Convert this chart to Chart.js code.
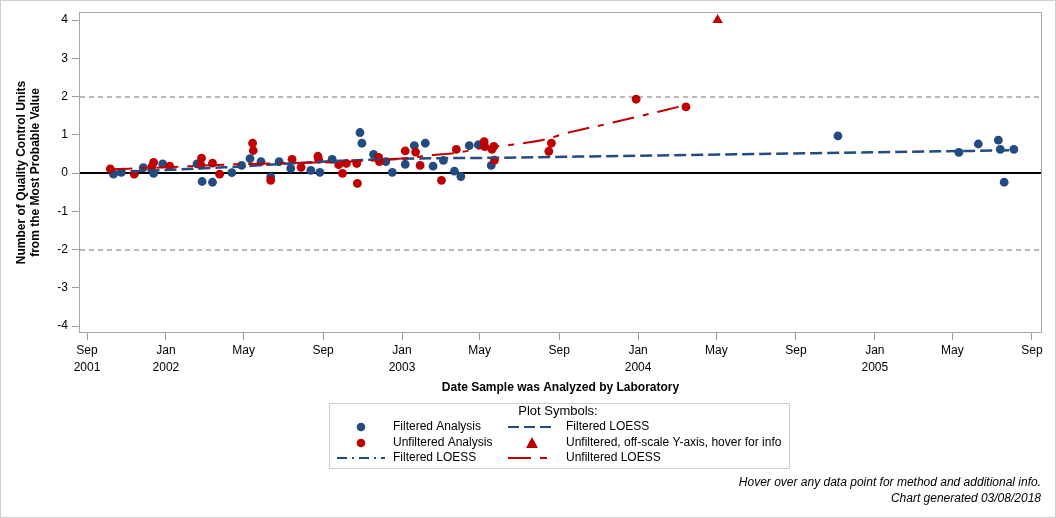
<!DOCTYPE html>
<html>
<head>
<meta charset="utf-8">
<script src="https://cdn.jsdelivr.net/npm/chart.js@4.4.1/dist/chart.umd.min.js"></script>
<style>
  html, body { margin: 0; padding: 0; background: #fff; }
  canvas { display: block; }
</style>
</head>
<body>
<canvas id="qc" width="1056" height="518"></canvas>
<script>
// ---- data ----
const filteredDates = [
  '2001-10-12', '2001-10-24', '2001-11-27', '2001-12-13', '2001-12-27',
  '2002-02-18', '2002-02-26', '2002-03-14', '2002-04-13', '2002-04-28',
  '2002-05-11', '2002-05-28', '2002-06-12', '2002-06-25', '2002-07-13',
  '2002-08-13', '2002-08-27', '2002-09-15', '2002-10-28', '2002-10-31',
  '2002-11-18', '2002-12-07', '2002-12-17', '2003-01-06', '2003-01-20',
  '2003-02-06', '2003-02-18', '2003-03-06', '2003-03-23', '2003-04-02',
  '2003-04-15', '2003-04-29', '2003-05-19', '2004-11-05', '2005-05-11',
  '2005-06-10', '2005-07-11', '2005-07-14', '2005-07-20', '2005-08-04'
];
const filteredValues = [
  -0.03, 0.02, 0.14, -0.01, 0.24,
  0.24, -0.22, -0.24, 0.01, 0.20,
  0.38, 0.30, -0.10, 0.30, 0.12,
  0.07, 0.02, 0.36, 1.06, 0.78,
  0.49, 0.30, 0.02, 0.23, 0.72,
  0.78, 0.18, 0.33, 0.05, -0.09,
  0.72, 0.74, 0.20, 0.97, 0.54,
  0.76, 0.86, 0.62, -0.24, 0.62
];

const unfilteredDates = [
  '2001-10-07', '2001-11-13', '2001-12-10', '2001-12-13', '2002-01-07',
  '2002-02-24', '2002-02-25', '2002-03-14', '2002-03-25', '2002-05-15',
  '2002-05-16', '2002-06-12', '2002-07-15', '2002-07-29', '2002-08-24',
  '2002-08-25', '2002-09-25', '2002-10-01', '2002-10-07', '2002-10-23',
  '2002-10-24', '2002-11-26', '2002-11-27', '2003-01-06', '2003-01-22',
  '2003-01-29', '2003-03-03', '2003-03-26', '2003-05-08', '2003-05-09',
  '2003-05-20', '2003-05-23', '2003-05-24', '2003-08-16', '2003-08-20',
  '2003-12-29', '2004-03-15'
];
const unfilteredValues = [
  0.11, -0.03, 0.16, 0.28, 0.18,
  0.21, 0.39, 0.26, -0.03, 0.78,
  0.59, -0.19, 0.36, 0.15, 0.44,
  0.36, 0.22, -0.01, 0.25, 0.25,
  -0.27, 0.41, 0.30, 0.58, 0.55,
  0.20, -0.19, 0.62, 0.82, 0.69,
  0.62, 0.70, 0.34, 0.57, 0.78,
  1.93, 1.73
];

// unfiltered result above the axis range, pinned to the top of the axis
const offScaleDates = ['2004-05-03'];
const offScaleShownAt = [4];

const filteredLoessDates = [
  '2001-10-12', '2002-01-01', '2002-04-01', '2002-07-01', '2002-09-15',
  '2002-12-01', '2003-03-01', '2003-06-01', '2003-10-01', '2004-02-01',
  '2004-06-01', '2004-10-01', '2005-02-01', '2005-06-01', '2005-08-04'
];
const filteredLoessValues = [
  0.03, 0.08, 0.15, 0.24, 0.31,
  0.36, 0.39, 0.40, 0.43, 0.46,
  0.49, 0.52, 0.55, 0.58, 0.60
];

const unfilteredLoessDates = [
  '2001-10-07', '2002-01-01', '2002-04-01', '2002-07-01', '2002-09-30',
  '2003-01-01', '2003-02-18', '2003-03-27', '2003-05-06', '2003-06-29',
  '2003-08-15', '2003-09-07', '2003-11-23', '2004-02-08', '2004-03-15'
];
const unfilteredLoessValues = [
  0.10, 0.15, 0.22, 0.26, 0.29,
  0.38, 0.47, 0.53, 0.66, 0.76,
  0.90, 1.02, 1.32, 1.63, 1.78
];

const xTickDates = [
  '2001-09-01', '2002-01-01', '2002-05-01', '2002-09-01', '2003-01-01',
  '2003-05-01', '2003-09-01', '2004-01-01', '2004-05-01', '2004-09-01',
  '2005-01-01', '2005-05-01', '2005-09-01'
];
const xTickLabels = [
  ['Sep', '2001'], ['Jan', '2002'], 'May', 'Sep', ['Jan', '2003'],
  'May', 'Sep', ['Jan', '2004'], 'May', 'Sep',
  ['Jan', '2005'], 'May', 'Sep'
];
const yTicks = [-4, -3, -2, -1, 0, 1, 2, 3, 4];
const limitLines = [-2, 2];

// ---- helpers ----
const BLUE = '#234b7f';
const RED = '#c00000';
const FONT = "'Liberation Sans', Arial, sans-serif";
const DAY0 = Date.UTC(2001, 8, 1);

function day(s) {
  const [yy, mm, dd] = s.split('-').map(Number);
  return (Date.UTC(yy, mm - 1, dd) - DAY0) / 864e5;
}
function pts(dates, values) {
  return dates.map((d, i) => ({ x: day(d), y: values[i] }));
}

Chart.defaults.font.family = FONT;
Chart.defaults.font.size = 12;
Chart.defaults.color = '#000';

function legendLine(ctx, x1, x2, y, color, dash) {
  ctx.save();
  ctx.strokeStyle = color;
  ctx.lineWidth = 2;
  ctx.setLineDash(dash);
  ctx.beginPath();
  ctx.moveTo(x1, y);
  ctx.lineTo(x2, y);
  ctx.stroke();
  ctx.restore();
}

const qcDecor = {
  id: 'qcDecor',
  beforeDraw(chart) {
    const { ctx, width, height } = chart;
    ctx.save();
    ctx.fillStyle = '#fff';
    ctx.fillRect(0, 0, width, height);
    ctx.strokeStyle = '#cfcfcf';
    ctx.lineWidth = 1;
    ctx.strokeRect(0.5, 0.5, width - 1, height - 1);
    ctx.restore();
  },
  beforeDatasetsDraw(chart) {
    const { ctx, chartArea: a, scales: { y } } = chart;
    ctx.save();
    ctx.strokeStyle = '#a8a8a8';
    ctx.lineWidth = 1;
    ctx.strokeRect(a.left + 0.5, a.top + 0.5, a.width - 1, a.height - 1);

    ctx.strokeStyle = '#b8b8b8';
    ctx.lineWidth = 2;
    ctx.setLineDash([5, 4]);
    limitLines.forEach(v => {
      const py = Math.round(y.getPixelForValue(v));
      ctx.beginPath();
      ctx.moveTo(a.left + 1, py);
      ctx.lineTo(a.right - 1, py);
      ctx.stroke();
    });
    ctx.setLineDash([]);
    ctx.strokeStyle = '#000';
    const p0 = Math.round(y.getPixelForValue(0));
    ctx.beginPath();
    ctx.moveTo(a.left + 1, p0);
    ctx.lineTo(a.right - 1, p0);
    ctx.stroke();
    ctx.restore();
  },
  afterDraw(chart) {
    const ctx = chart.ctx;
    ctx.save();
    // legend box
    ctx.strokeStyle = '#cfcfcf';
    ctx.lineWidth = 1;
    ctx.strokeRect(329.5, 403.5, 460, 65);
    ctx.fillStyle = '#000';
    ctx.textBaseline = 'middle';
    ctx.textAlign = 'center';
    ctx.font = '13px ' + FONT;
    ctx.fillText('Plot Symbols:', 558, 411);

    ctx.font = '12px ' + FONT;
    ctx.textAlign = 'left';
    const r1 = 427, r2 = 443, r3 = 458;
    // column 1
    ctx.fillStyle = BLUE;
    ctx.beginPath(); ctx.arc(361, r1, 4.3, 0, Math.PI * 2); ctx.fill();
    ctx.fillStyle = RED;
    ctx.beginPath(); ctx.arc(361, r2, 4.3, 0, Math.PI * 2); ctx.fill();
    legendLine(ctx, 337, 385, r3, BLUE, [10, 5, 2, 5]);
    ctx.fillStyle = '#000';
    ctx.fillText('Filtered Analysis', 393, r1);
    ctx.fillText('Unfiltered Analysis', 393, r2);
    ctx.fillText('Filtered LOESS', 393, r3);
    // column 2
    legendLine(ctx, 508, 552, r1, BLUE, [11, 5]);
    ctx.fillStyle = RED;
    ctx.beginPath();
    ctx.moveTo(532, r2 - 6); ctx.lineTo(538, r2 + 5); ctx.lineTo(526, r2 + 5);
    ctx.closePath(); ctx.fill();
    legendLine(ctx, 508, 548, r3, RED, [23, 9, 7, 9]);
    ctx.fillStyle = '#000';
    ctx.fillText('Filtered LOESS', 566, r1);
    ctx.fillText('Unfiltered, off-scale Y-axis, hover for info', 566, r2);
    ctx.fillText('Unfiltered LOESS', 566, r3);

    // footer notes
    ctx.textAlign = 'right';
    ctx.font = 'italic 12px ' + FONT;
    ctx.fillText('Hover over any data point for method and additional info.', 1041, 483);
    ctx.fillText('Chart generated 03/08/2018', 1041, 499);
    ctx.restore();
  }
};

new Chart(document.getElementById('qc'), {
  type: 'scatter',
  data: {
    datasets: [
      {
        label: 'Unfiltered LOESS',
        type: 'line',
        data: pts(unfilteredLoessDates, unfilteredLoessValues),
        borderColor: RED,
        borderWidth: 2,
        borderDash: [22, 9, 6, 9],
        pointRadius: 0,
        fill: false,
        cubicInterpolationMode: 'monotone',
        order: 1
      },
      {
        label: 'Filtered LOESS',
        type: 'line',
        data: pts(filteredLoessDates, filteredLoessValues),
        borderColor: BLUE,
        borderWidth: 2.5,
        borderDash: [12, 5],
        pointRadius: 0,
        fill: false,
        cubicInterpolationMode: 'monotone',
        order: 2
      },
      {
        label: 'Unfiltered, off-scale Y-axis',
        data: pts(offScaleDates, offScaleShownAt),
        pointStyle: 'triangle',
        pointRadius: 6,
        backgroundColor: RED,
        borderColor: RED,
        borderWidth: 0,
        order: 3
      },
      {
        label: 'Unfiltered Analysis',
        data: pts(unfilteredDates, unfilteredValues),
        pointRadius: 4.4,
        backgroundColor: RED,
        borderColor: RED,
        borderWidth: 0,
        order: 4
      },
      {
        label: 'Filtered Analysis',
        data: pts(filteredDates, filteredValues),
        pointRadius: 4.4,
        backgroundColor: BLUE,
        borderColor: BLUE,
        borderWidth: 0,
        order: 5
      }
    ]
  },
  options: {
    responsive: false,
    animation: false,
    events: [],
    layout: { padding: { left: 0, top: 12, right: 14, bottom: 123 } },
    plugins: {
      legend: { display: false },
      tooltip: { enabled: false }
    },
    scales: {
      x: {
        type: 'linear',
        min: -12.4,
        max: 1476.5,
        afterBuildTicks: s => { s.ticks = xTickDates.map(d => ({ value: day(d) })); },
        afterFit: s => { s.height = 62; },
        ticks: {
          autoSkip: false,
          maxRotation: 0,
          padding: 3,
          color: '#000',
          font: { size: 12, lineHeight: 1.35 },
          callback: (v, i) => xTickLabels[i]
        },
        grid: { drawOnChartArea: false, tickLength: 7, color: '#9a9a9a' },
        border: { display: false },
        title: {
          display: true,
          text: 'Date Sample was Analyzed by Laboratory',
          font: { size: 12, weight: 'bold' },
          padding: { top: 0, bottom: 0 }
        }
      },
      y: {
        min: -4.18,
        max: 4.21,
        afterBuildTicks: s => { s.ticks = yTicks.map(v => ({ value: v })); },
        afterFit: s => { s.width = 79; },
        ticks: {
          padding: 4,
          color: '#000',
          font: { size: 12 },
          callback: v => String(v)
        },
        grid: { drawOnChartArea: false, tickLength: 7, color: '#9a9a9a' },
        border: { display: false },
        title: {
          display: true,
          text: ['Number of Quality Control Units', 'from the Most Probable Value'],
          font: { size: 12, weight: 'bold' },
          padding: { top: 14.5, bottom: 0 }
        }
      }
    }
  },
  plugins: [qcDecor]
});
</script>
</body>
</html>
